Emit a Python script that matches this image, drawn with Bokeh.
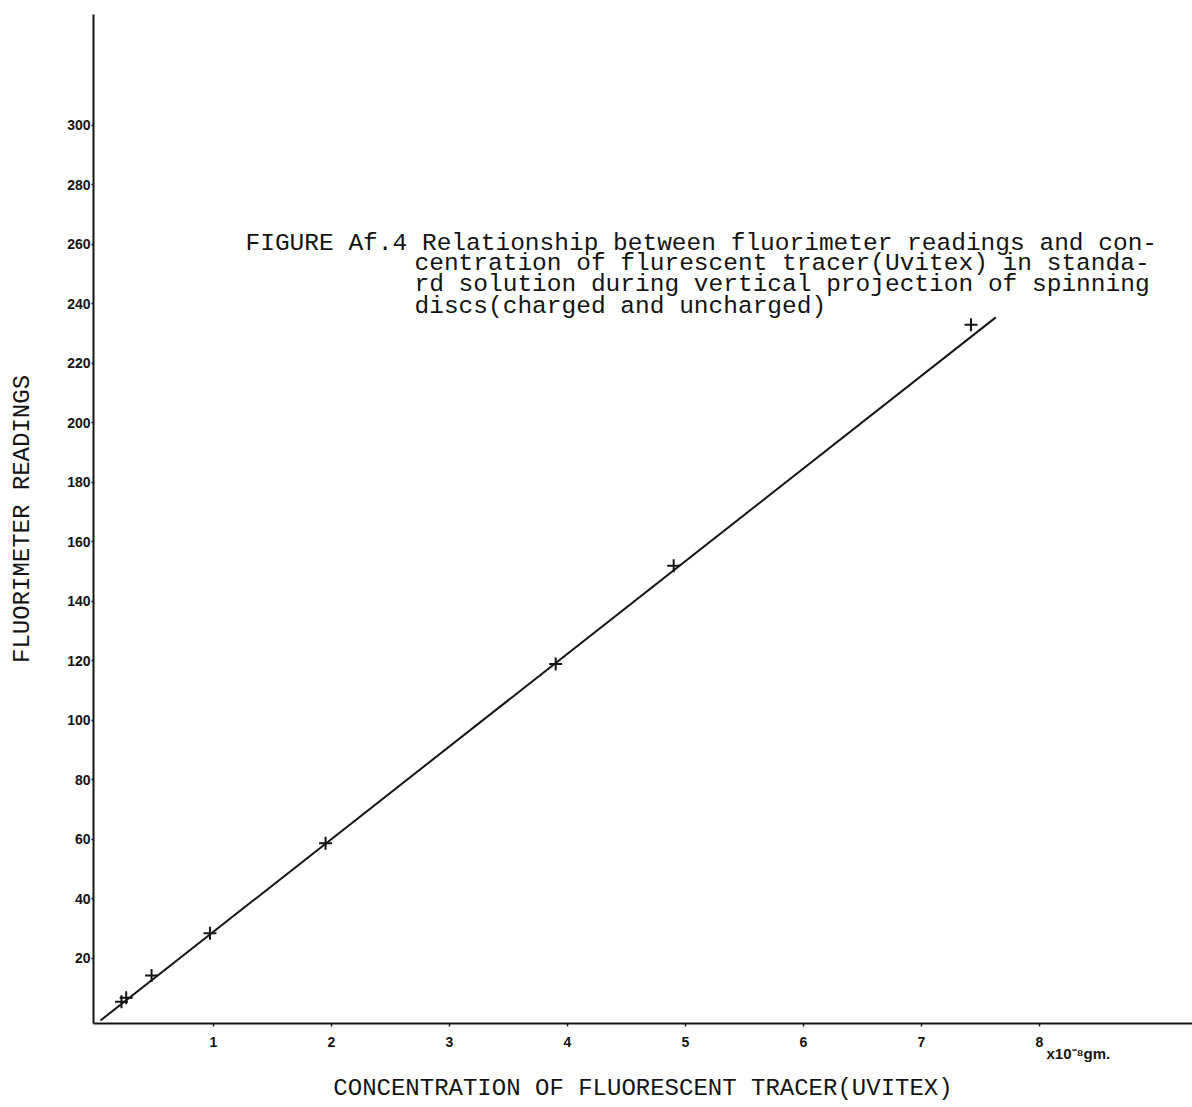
from bokeh.plotting import figure
from bokeh.models import Range1d, Label, FixedTicker, LinearAxis
from bokeh.embed import file_html
from bokeh.resources import INLINE

# --- data ---
conc = [0.22, 0.26, 0.475, 0.97, 1.95, 3.9, 4.9, 7.42]          # x 10^-8 gm
readings = [5.5, 6.8, 14.3, 28.5, 58.7, 119.0, 152.0, 233.0]
fit_x = [0.042, 7.63]
fit_y = [-0.84, 235.5]
x_ticks = [1, 2, 3, 4, 5, 6, 7, 8]
y_ticks = [20, 40, 60, 80, 100, 120, 140, 160, 180, 200, 220, 240, 260, 280, 300]
unit_note = "x10⁻⁸gm."
unit_pos = 8.33
caption_lines = [
    "FIGURE Af.4 Relationship between fluorimeter readings and con-",
    "centration of flurescent tracer(Uvitex) in standa-",
    "rd solution during vertical projection of spinning",
    "discs(charged and uncharged)",
]
x_title = "CONCENTRATION OF FLUORESCENT TRACER(UVITEX)"
y_title = "FLUORIMETER READINGS"

INK = "#141414"
MONO = "Liberation Mono"

p = figure(width=1192, height=1107, output_backend="svg", toolbar_location=None,
           x_range=Range1d(-0.017, 9.297), y_range=Range1d(-1.85, 337.3),
           min_border_left=93, min_border_right=0, min_border_top=14, min_border_bottom=84)
p.background_fill_color = "white"
p.border_fill_color = "white"
p.outline_line_color = None
p.grid.visible = False

for ax in (p.xaxis[0], p.yaxis[0]):
    ax.axis_line_color = INK
    ax.axis_line_width = 2
    ax.major_tick_line_color = INK
    ax.major_tick_line_width = 1.5
    ax.minor_tick_line_color = None
    ax.major_tick_in = 0
    ax.major_label_text_font = "Liberation Sans"
    ax.major_label_text_font_style = "bold"
    ax.major_label_text_font_size = "14px"
    ax.major_label_text_color = INK

p.xaxis[0].ticker = FixedTicker(ticks=x_ticks)
p.xaxis[0].major_tick_out = 3
p.xaxis[0].major_label_standoff = 10

yax = p.yaxis[0]
yax.ticker = FixedTicker(ticks=y_ticks)
yax.major_tick_out = 2
yax.major_label_standoff = 1
yax.axis_label = y_title
yax.axis_label_text_font = MONO
yax.axis_label_text_font_style = "normal"
yax.axis_label_text_font_size = "24px"
yax.axis_label_text_color = INK
yax.axis_label_standoff = 28

# second bottom axis: carries the unit note and the x title
ax2 = LinearAxis(ticker=FixedTicker(ticks=[unit_pos]),
                 major_label_overrides={unit_pos: unit_note},
                 axis_line_color=None, major_tick_line_color=None, minor_tick_line_color=None,
                 major_tick_out=0, major_tick_in=0, major_label_standoff=-5,
                 major_label_text_font="Liberation Sans", major_label_text_font_style="bold",
                 major_label_text_font_size="15px", major_label_text_color=INK,
                 axis_label=x_title, axis_label_text_font=MONO,
                 axis_label_text_font_style="normal", axis_label_text_font_size="24px",
                 axis_label_text_color=INK, axis_label_standoff=10)
p.add_layout(ax2, "below")

# fitted line and readings
p.line(fit_x, fit_y, line_color=INK, line_width=2)
p.scatter(conc, readings, marker="cross", size=13, line_color=INK, line_width=2)

def px_to_x(px):
    return (px - 95) / 118.0

def py_to_y(py):
    return (1017.5 - py) / 2.975

# caption (inside the frame)
cap_pos = [(245, 243), (414, 263.5), (414, 284.5), (414, 306)]
for txt, (cx, cy) in zip(caption_lines, cap_pos):
    p.add_layout(Label(x=px_to_x(cx), y=py_to_y(cy), text=txt, text_font=MONO,
                       text_font_size="24.5px", text_color=INK, text_baseline="alphabetic"))

open("out.html", "w").write(file_html(p, INLINE))
